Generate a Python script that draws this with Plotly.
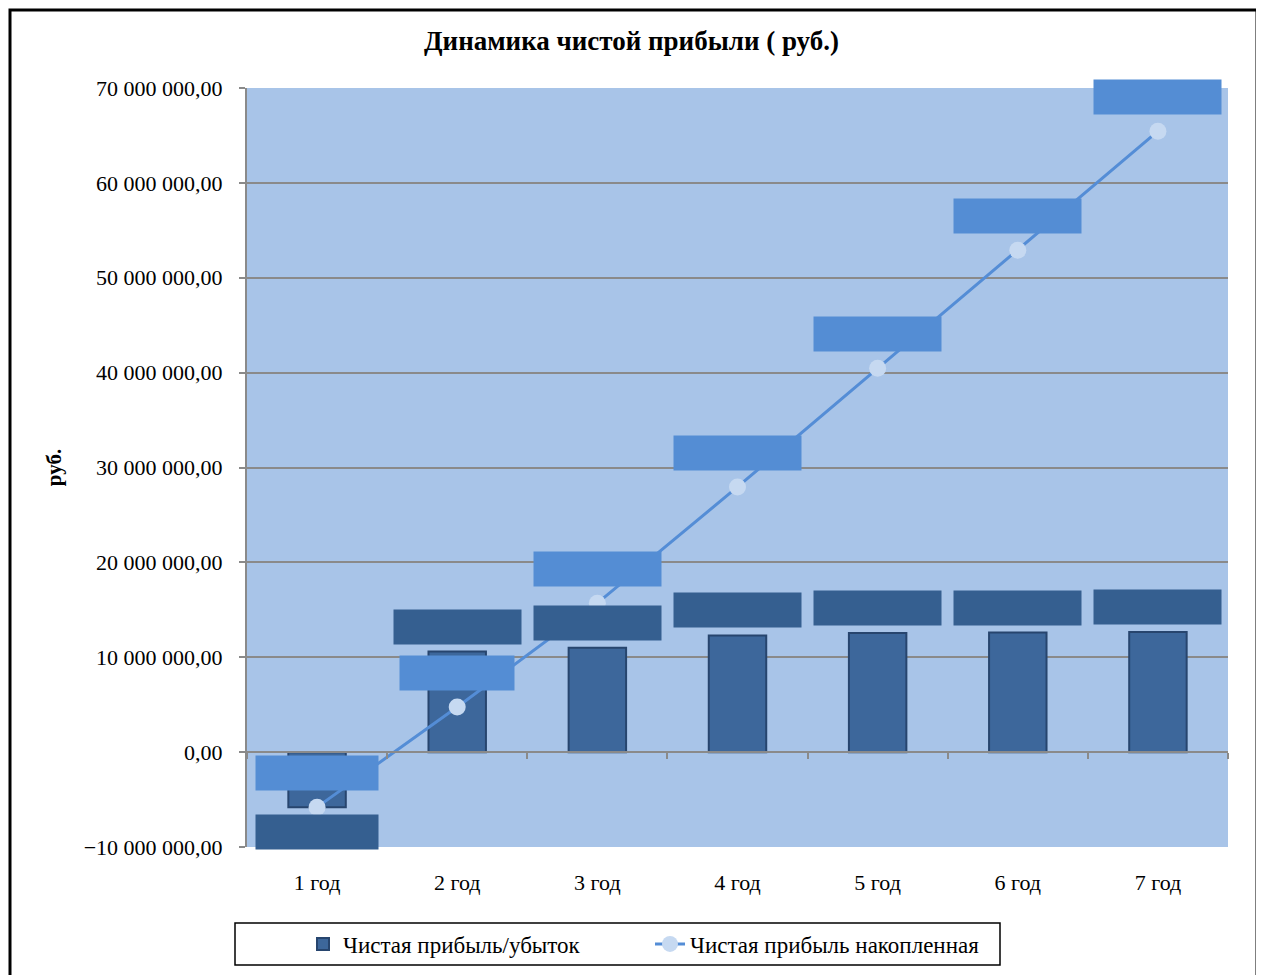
import plotly.graph_objects as go

years = ["1 год", "2 год", "3 год", "4 год", "5 год", "6 год", "7 год"]
profit = [-5_800_000, 10_600_000, 11_000_000, 12_300_000, 12_550_000, 12_600_000, 12_650_000]
cumulative = [-5_800_000, 4_750_000, 15_700_000, 27_950_000, 40_450_000, 52_900_000, 65_450_000]

title_text = "Динамика чистой прибыли ( руб.)"
y_title = "руб."
bar_name = "Чистая прибыль/убыток"
line_name = "Чистая прибыль накопленная"

y_min, y_max, y_step = -10_000_000, 70_000_000, 10_000_000

FONT = "Liberation Serif"
PLOT_BG = "#A8C4E8"
BAR_FILL = "#3D679B"
BAR_EDGE = "#27456E"
BAR_LABEL_BG = "#355F90"
LINE_COLOR = "#548DD6"
LINE_LABEL_BG = "#548DD4"
MARKER_COLOR = "#C6D9F1"
GRID = "#8A8A8A"

# page has an 8px body margin; plot area wanted at screen x 247-1228, y 88-847
OFF = 8
L, R, T, B = 247 - OFF, 1264 - (1228 - OFF), 88 - OFF, 975 - (847 - OFF)
PW, PH = 1228 - 247, 847 - 88

def px_x(sx):
    return (sx - 247) / PW

def px_y(sy):
    return (847 - sy) / PH

fig = go.Figure()
fig.add_trace(go.Bar(
    x=years, y=profit, name=bar_name, width=0.41,
    marker=dict(color=BAR_FILL, line=dict(color=BAR_EDGE, width=2)),
))
fig.add_trace(go.Scatter(
    x=years, y=cumulative, name=line_name, mode="lines+markers",
    line=dict(color=LINE_COLOR, width=3),
    marker=dict(symbol="circle", size=17, color=MARKER_COLOR, line=dict(width=0)),
))
# helper trace for the category axis drawn through zero
fig.add_trace(go.Scatter(
    x=years, y=cumulative, xaxis="x2", mode="markers", showlegend=False,
    marker=dict(opacity=0), hoverinfo="skip",
))

def label_width(v):
    if abs(v) >= 10_000_000:
        return 127
    return 122 if v < 0 else 114

annotations = []
for cat, v in zip(years, profit):
    annotations.append(dict(
        x=cat, y=v, xref="x", yref="y", text=" ", showarrow=False,
        width=label_width(v), height=34, bgcolor=BAR_LABEL_BG, borderpad=0,
        yshift=25 if v >= 0 else -25,
    ))
for cat, v in zip(years, cumulative):
    annotations.append(dict(
        x=cat, y=v, xref="x", yref="y", text=" ", showarrow=False,
        width=label_width(v), height=34, bgcolor=LINE_LABEL_BG, borderpad=0,
        yshift=34,
    ))

zero_pos = (0 - y_min) / (y_max - y_min)

fig.update_layout(
    width=1264, height=975,
    margin=dict(l=L, r=R, t=T, b=B),
    paper_bgcolor="white",
    plot_bgcolor=PLOT_BG,
    separators=", ",
    font=dict(family=FONT, size=22, color="black"),
    title=dict(text="<b>" + title_text + "</b>", x=(631.5 - OFF) / 1264, xanchor="center",
               y=1 - (41 - OFF) / 975, yanchor="middle",
               font=dict(family=FONT, size=27, color="black")),
    showlegend=True,
    legend=dict(orientation="h", x=px_x(303), xanchor="left",
                y=px_y(944), yanchor="middle",
                bgcolor="rgba(0,0,0,0)", entrywidth=302,
                font=dict(family=FONT, size=23, color="black")),
    annotations=annotations,
    xaxis=dict(type="category", range=[-0.5, 6.5], showgrid=False, showline=False,
               zeroline=False, ticks="outside", ticklen=16, tickcolor="rgba(0,0,0,0)",
               tickfont=dict(family=FONT, size=22)),
    xaxis2=dict(type="category", range=[-0.5, 6.5], overlaying="x", anchor="free",
                position=zero_pos, showline=True, linecolor=GRID, linewidth=2,
                ticks="outside", tickson="boundaries", ticklen=6, tickcolor=GRID,
                tickwidth=2, showticklabels=False, showgrid=False, zeroline=False),
    yaxis=dict(range=[y_min, y_max], dtick=y_step, tick0=0, tickformat=",.2f",
               showgrid=True, gridcolor=GRID, gridwidth=2, zeroline=False,
               showline=True, linecolor=GRID, linewidth=2,
               ticks="outside", ticklen=6, tickcolor=GRID, tickwidth=2,
               ticklabelstandoff=12,
               tickfont=dict(family=FONT, size=22),
               title=dict(text="<b>" + y_title + "</b>", standoff=16,
                          font=dict(family=FONT, size=21))),
    shapes=[
        dict(type="rect", xref="paper", yref="paper",
             x0=px_x(OFF + 2), x1=px_x(1257), y0=px_y(990), y1=px_y(OFF + 2),
             line=dict(color="black", width=3), fillcolor="rgba(0,0,0,0)", layer="below"),
        dict(type="rect", xref="paper", yref="paper",
             x0=px_x(235), x1=px_x(1000), y0=px_y(965), y1=px_y(923),
             line=dict(color="black", width=1.5), fillcolor="rgba(0,0,0,0)"),
    ],
)

fig.write_html("out.html")
